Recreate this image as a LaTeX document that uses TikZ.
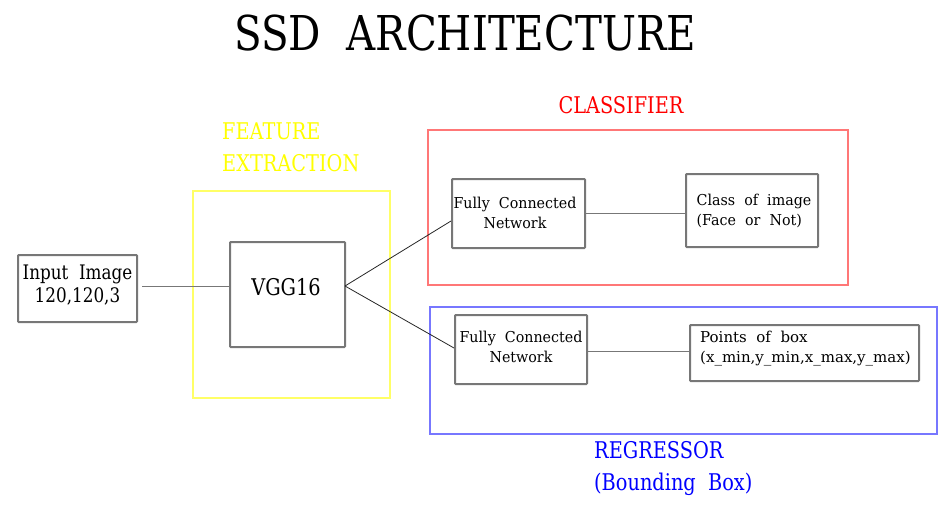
\documentclass[tikz,border=0pt]{standalone}
\usepackage{fontspec}
\setmainfont[FakeStretch=0.84]{DejaVu Serif}
\newfontfamily\boxfont[FakeStretch=0.95]{DejaVu Serif}
\newfontfamily\widefont{DejaVu Serif}
\definecolor{boxgray}{HTML}{777777}
\definecolor{yel}{HTML}{FFFF00}
\definecolor{yelframe}{HTML}{FFFF66}
\definecolor{redframe}{HTML}{FF7777}
\definecolor{blueframe}{HTML}{7777FF}
\begin{document}
\begin{tikzpicture}[x=1pt,y=-1pt,
  blk/.style={draw=boxgray,line width=2pt,rounded corners=0.8pt},
  frame/.style={line width=2pt},
  conn/.style={draw=black!85,line width=0.8pt},
  txt/.style={inner sep=0pt,align=center,font=\boxfont\fontsize{15}{20}\selectfont},
  lbl/.style={inner sep=0pt,align=left,font=\fontsize{23}{32}\selectfont}
]
\useasboundingbox (0,0) rectangle (950,507);
% title
\node[inner sep=0pt,font=\fontsize{48}{54}\selectfont] (title) at (465,33) {SSD\ \ ARCHITECTURE};
% frames
\draw[frame,draw=yelframe] (193,191) rectangle (390,398);
\draw[frame,draw=redframe] (428,130) rectangle (848,285);
\draw[frame,draw=blueframe] (430,307) rectangle (937,434);
% frame labels
\node[lbl,anchor=west,text=yel] (fe) at (222,147) {FEATURE\\EXTRACTION};
\node[lbl,text=red] (cl) at (621,105) {CLASSIFIER};
\node[lbl,anchor=west,text=blue] (rg) at (594,469) {REGRESSOR\\(Bounding\ \ Box)};
% blocks
\node[blk,minimum width=119pt,minimum height=67pt] (inp) at (77.5,288.5) {};
\node[txt,font=\fontsize{20}{23}\selectfont] at (77.5,285) {Input\ \ Image\\120,120,3};
\node[blk,minimum width=115pt,minimum height=105pt] (vgg) at (287.5,294.5) {};
\node[txt,font=\fontsize{23}{26}\selectfont] at (286,287) {VGG16};
\node[blk,minimum width=133pt,minimum height=69pt] (fc1) at (518.5,213.5) {};
\node[txt] at (515,213) {Fully\ \ Connected\\Network};
\node[blk,minimum width=132pt,minimum height=73pt] (cls) at (752,210.5) {};
\node[txt,align=left] at (754,211) {Class\ \ of\ \ image\\(Face\ \ or\ \ Not)};
\node[blk,minimum width=132pt,minimum height=69pt] (fc2) at (521,349.5) {};
\node[txt] at (521,347) {Fully\ \ Connected\\Network};
\node[blk,minimum width=229pt,minimum height=56pt] (pts) at (804.5,353) {};
\node[txt,align=left,anchor=west,font=\widefont\fontsize{15}{20}\selectfont] at (700,348.5) {Points\ \ of\ \ box\\(x\_min,y\_min,x\_max,y\_max)};
% connectors
\coordinate (vr) at (345,286);
\draw[conn,draw=boxgray] (142,286) -- (vgg.west |- 0,286);
\draw[conn] (vr) -- (fc1.west |- 0,221);
\draw[conn] (vr) -- (fc2.west |- 0,348);
\draw[conn,draw=boxgray] (fc1.east |- 0,213) -- (cls.west |- 0,213);
\draw[conn,draw=boxgray] (fc2.east |- 0,351) -- (pts.west |- 0,351);
\end{tikzpicture}
\end{document}
